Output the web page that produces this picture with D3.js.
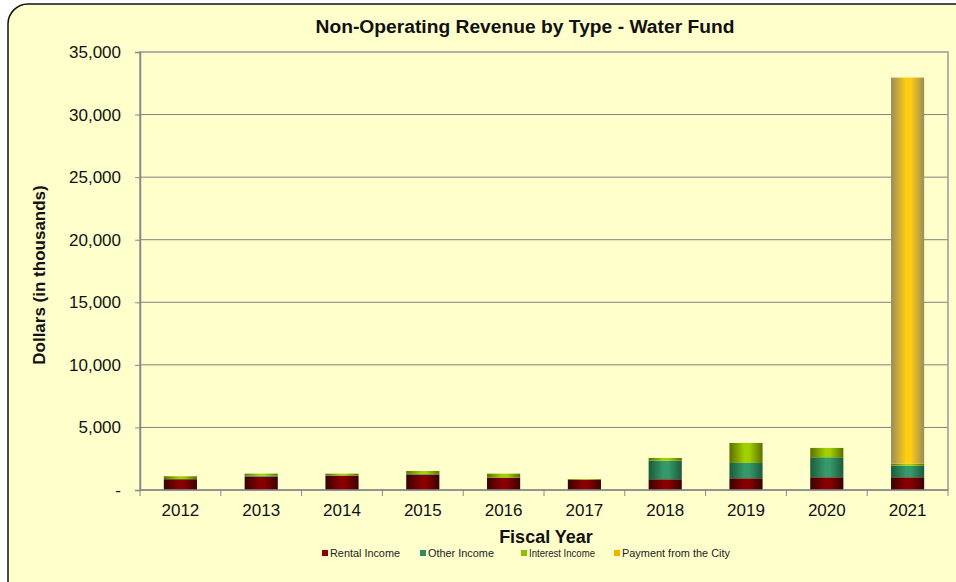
<!DOCTYPE html>
<html><head><meta charset="utf-8">
<script src="https://cdn.jsdelivr.net/npm/d3@7"></script>
<style>body{margin:0;background:#fff;} svg{display:block;font-family:Arial,"Liberation Sans",sans-serif;}</style>
</head><body><svg id="c" width="956" height="582"></svg>
<script>
const years = ["2012","2013","2014","2015","2016","2017","2018","2019","2020","2021"];
const rentalIncome = [860,1065,1145,1225,985,830,857,937,1017,1017];
const otherIncome  = [20,90,30,60,20,0,1490,1225,1600,930];
const interestIncome = [220,150,130,235,300,50,215,1600,745,160];
const paymentFromCity = [0,0,0,0,0,0,0,0,0,30850];
const seriesNames = ["Rental Income","Other Income","Interest Income","Payment from the City"];
const yTicks = [0,5000,10000,15000,20000,25000,30000,35000];
const title = "Non-Operating Revenue by Type - Water Fund";
const xTitle = "Fiscal Year";
const yTitle = "Dollars (in thousands)";

const colors = [
  {mid:"#880000", edge:"#3a0000", legend:"#8b0000"},
  {mid:"#349a6a", edge:"#1c5a3c", legend:"#2e8b62"},
  {mid:"#a0d000", edge:"#5c7000", legend:"#8fbf00"},
  {mid:"#ffcc11", edge:"#9a8c5a", legend:"#f0b400"}
];

const svg = d3.select("#c");
const m = {left:140, right:948, top:52, bottom:490};

// background panel
svg.append("rect").attr("x",8).attr("y",4).attr("width",990).attr("height",620)
  .attr("rx",20).attr("fill","#ffffcc").attr("stroke","#111").attr("stroke-width",1.5);

const defs = svg.append("defs");
colors.forEach((c,i)=>{
  const g = defs.append("linearGradient").attr("id","g"+i).attr("x1","0").attr("x2","1").attr("y1","0").attr("y2","0");
  g.append("stop").attr("offset","0%").attr("stop-color",c.edge);
  g.append("stop").attr("offset","45%").attr("stop-color",c.mid);
  g.append("stop").attr("offset","60%").attr("stop-color",c.mid);
  g.append("stop").attr("offset","100%").attr("stop-color",c.edge);
});

const data = years.map((y,i)=>({year:y, s0:rentalIncome[i], s1:otherIncome[i], s2:interestIncome[i], s3:paymentFromCity[i]}));
const stack = d3.stack().keys(["s0","s1","s2","s3"])(data);

const x = d3.scaleBand().domain(years).range([m.left,m.right]).paddingInner(0.59).paddingOuter(0.295);
const y = d3.scaleLinear().domain([0,35000]).range([m.bottom,m.top]);

// gridlines
svg.append("g").selectAll("line").data(yTicks.slice(1,-1)).join("line")
  .attr("x1",m.left).attr("x2",m.right).attr("y1",d=>y(d)).attr("y2",d=>y(d))
  .attr("stroke","#808080").attr("stroke-width",1);

// plot border
svg.append("rect").attr("x",m.left).attr("y",m.top).attr("width",m.right-m.left).attr("height",m.bottom-m.top)
  .attr("fill","none").attr("stroke","#999").attr("stroke-width",1.5);

// bars
stack.forEach((s,i)=>{
  svg.append("g").selectAll("rect").data(s.filter(d=>d[1]-d[0]>0)).join("rect")
    .attr("x",d=>x(d.data.year)).attr("width",x.bandwidth())
    .attr("y",d=>y(d[1])).attr("height",d=>y(d[0])-y(d[1]))
    .attr("fill","url(#g"+i+")");
});

// y axis
const yAxis = d3.axisLeft(y).tickValues(yTicks).tickSize(5).tickPadding(14)
  .tickFormat(d=> d===0 ? "-" : d3.format(",")(d));
const ya = svg.append("g").attr("transform",`translate(${m.left},0)`).call(yAxis);
ya.select(".domain").attr("stroke","#888").attr("stroke-width",1.5);
ya.selectAll(".tick line").attr("stroke","#888");
ya.selectAll("text").attr("font-size",17).attr("fill","#111").attr("font-family","Arial, 'Liberation Sans', sans-serif");

// x axis
const xa = svg.append("g").attr("transform",`translate(0,${m.bottom})`);
xa.append("line").attr("x1",m.left).attr("x2",m.right).attr("stroke","#888").attr("stroke-width",1.5);
xa.selectAll("line.t").data(d3.range(years.length+1)).join("line").attr("class","t")
  .attr("x1",i=>m.left+i*(m.right-m.left)/years.length).attr("x2",i=>m.left+i*(m.right-m.left)/years.length)
  .attr("y1",0).attr("y2",6).attr("stroke","#888");
xa.selectAll("text").data(years).join("text")
  .attr("x",d=>x(d)+x.bandwidth()/2).attr("y",26).attr("text-anchor","middle")
  .attr("font-size",17).attr("fill","#111").text(d=>d);

// titles
svg.append("text").attr("x",525).attr("y",33).attr("text-anchor","middle")
  .attr("font-size",18).attr("font-weight","bold").attr("fill","#111")
  .attr("textLength",419).attr("lengthAdjust","spacingAndGlyphs").text(title);
svg.append("text").attr("x",546).attr("y",543).attr("text-anchor","middle")
  .attr("font-size",18).attr("font-weight","bold").attr("fill","#111").text(xTitle);
svg.append("text").attr("transform","translate(45,275) rotate(-90)").attr("text-anchor","middle")
  .attr("font-size",17).attr("font-weight","bold").attr("fill","#111").text(yTitle);

// legend
const legX = [322,420,521,614];
const legW = [70,66,66,108];
const lg = svg.append("g");
seriesNames.forEach((n,i)=>{
  lg.append("rect").attr("x",legX[i]).attr("y",550).attr("width",6).attr("height",6).attr("fill",colors[i].legend);
  lg.append("text").attr("x",legX[i]+8).attr("y",557).attr("font-size",11).attr("fill","#222")
    .attr("textLength",legW[i]).attr("lengthAdjust","spacingAndGlyphs").text(n);
});
</script></body></html>
